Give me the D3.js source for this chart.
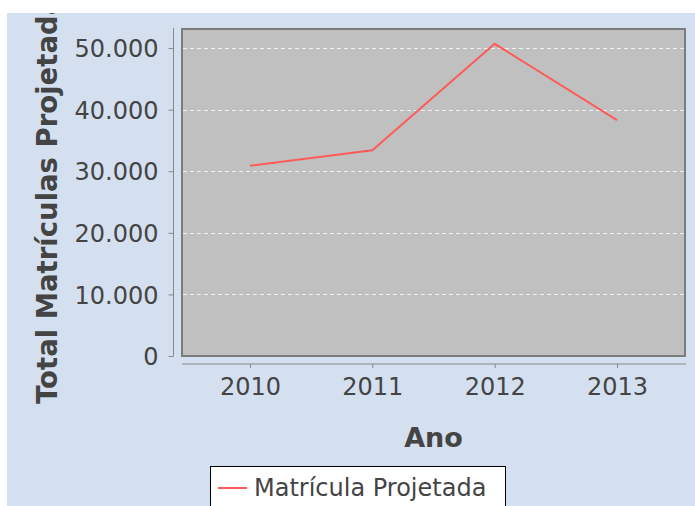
<!DOCTYPE html>
<html>
<head>
<meta charset="utf-8">
<script src="https://cdn.jsdelivr.net/npm/d3@7"></script>
<style>
  body { margin: 0; background: #fff; }
  svg text { font-family: "DejaVu Sans", sans-serif; fill: #444; }
</style>
</head>
<body>
<div id="chart"></div>
<script>
// data
const anos = ["2010", "2011", "2012", "2013"];
const matriculas = [30900, 33400, 50700, 38300];
const yTicks = [0, 10000, 20000, 30000, 40000, 50000];
const serieNome = "Matrícula Projetada";

const width = 695, height = 506;
const plot = { left: 182, right: 685, top: 29, bottom: 356 };

const svg = d3.select("#chart").append("svg")
    .attr("width", width)
    .attr("height", height);

// panel background (chart is cropped at top/left)
svg.append("defs").append("clipPath")
    .attr("id", "panelClip")
    .append("rect")
    .attr("x", 7).attr("y", 13)
    .attr("width", width - 7).attr("height", height - 13);

const panel = svg.append("g").attr("clip-path", "url(#panelClip)");

panel.append("rect")
    .attr("x", 7).attr("y", 13)
    .attr("width", width - 7).attr("height", height - 13)
    .attr("fill", "#d4e0f0");

const x = d3.scalePoint()
    .domain(anos)
    .range([plot.left, plot.right])
    .padding(0.556);

const y = d3.scaleLinear()
    .domain([0, 53100])
    .range([plot.bottom, plot.top]);

const fmt = d => d3.format(",")(d).replace(/,/g, ".");

// plot area
panel.append("rect")
    .attr("x", plot.left).attr("y", plot.top)
    .attr("width", plot.right - plot.left)
    .attr("height", plot.bottom - plot.top)
    .attr("fill", "#c0c0c0");

// gridlines
panel.append("g")
    .selectAll("line")
    .data(yTicks.filter(d => d > 0))
    .enter()
    .append("line")
    .attr("x1", plot.left + 1).attr("x2", plot.right - 1)
    .attr("y1", d => Math.round(y(d)) + 0.5)
    .attr("y2", d => Math.round(y(d)) + 0.5)
    .attr("stroke", "#f2f2f2")
    .attr("stroke-width", 1)
    .attr("stroke-dasharray", "4,3");

// plot outline
panel.append("rect")
    .attr("x", plot.left).attr("y", plot.top)
    .attr("width", plot.right - plot.left)
    .attr("height", plot.bottom - plot.top)
    .attr("fill", "none")
    .attr("stroke", "#7c7c7c")
    .attr("stroke-width", 2);

// series line
const line = d3.line()
    .x((d, i) => x(anos[i]))
    .y(d => y(d));

panel.append("path")
    .datum(matriculas)
    .attr("d", line)
    .attr("fill", "none")
    .attr("stroke", "#ff5a5a")
    .attr("stroke-width", 2);

// y axis
const yAxis = panel.append("g")
    .attr("transform", "translate(173.5,0)")
    .call(d3.axisLeft(y).tickValues(yTicks).tickFormat(fmt).tickSize(5).tickPadding(10));
yAxis.select(".domain").attr("stroke", "#888").attr("d", `M-0,${plot.top - 1}V${plot.bottom}`);
yAxis.selectAll(".tick line").attr("stroke", "#888");
yAxis.selectAll(".tick text")
    .attr("font-size", 24)
    .attr("font-family", "DejaVu Sans, sans-serif")
    .attr("fill", "#444")
    .attr("dy", "0.36em");

// x axis
const xAxis = panel.append("g")
    .attr("transform", "translate(0,364)")
    .call(d3.axisBottom(x).tickSize(4).tickPadding(10));
xAxis.select(".domain").attr("stroke", "#888").attr("d", `M${plot.left},0H${plot.right + 1}`);
xAxis.selectAll(".tick line").attr("stroke", "#888");
xAxis.selectAll(".tick text")
    .attr("font-size", 24)
    .attr("font-family", "DejaVu Sans, sans-serif")
    .attr("fill", "#444")
    .attr("dy", "0.71em");

// axis titles
panel.append("text")
    .attr("x", (plot.left + plot.right) / 2)
    .attr("y", 447)
    .attr("text-anchor", "middle")
    .attr("font-size", 27)
    .attr("font-weight", "bold")
    .text("Ano");

// y title starts at y=404 and runs past the top edge, like the reference
panel.append("text")
    .attr("transform", "translate(57,404) rotate(-90)")
    .attr("text-anchor", "start")
    .attr("font-size", 27.5)
    .attr("font-weight", "bold")
    .text("Total Matrículas Projetadas");

// legend
const legend = panel.append("g");
legend.append("rect")
    .attr("x", 210.5).attr("y", 466.5)
    .attr("width", 295).attr("height", 60)
    .attr("fill", "#fff")
    .attr("stroke", "#000")
    .attr("stroke-width", 1);
legend.append("line")
    .attr("x1", 218).attr("x2", 247)
    .attr("y1", 488).attr("y2", 488)
    .attr("stroke", "#ff5a5a")
    .attr("stroke-width", 2);
legend.append("text")
    .attr("x", 254)
    .attr("y", 496)
    .attr("font-size", 24)
    .text(serieNome);
</script>
</body>
</html>
